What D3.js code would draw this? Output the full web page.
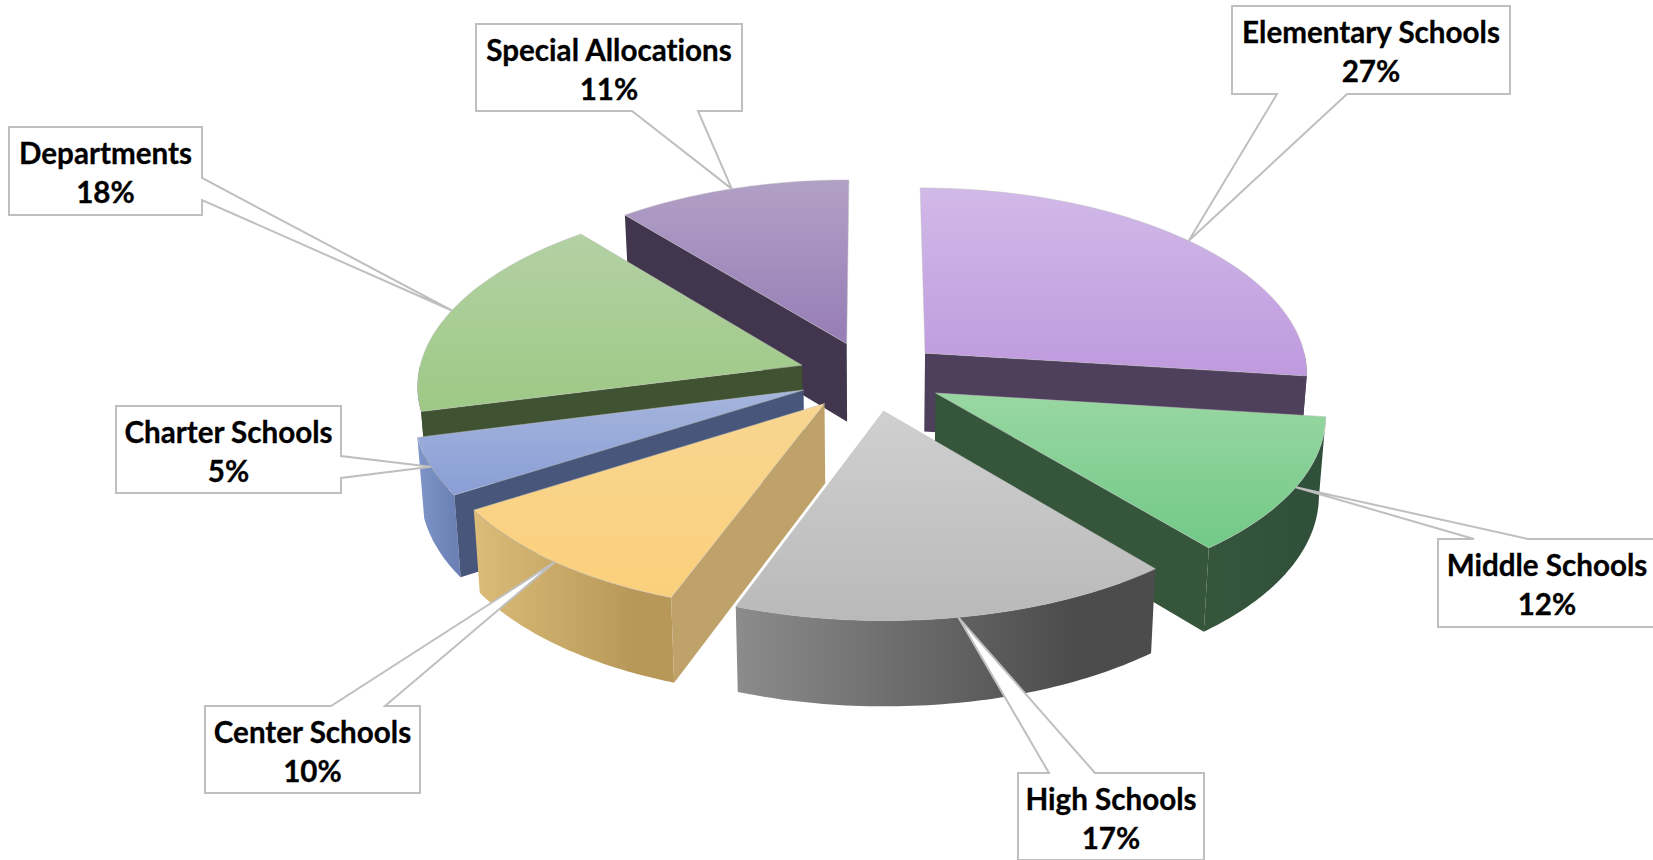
<!DOCTYPE html>
<html>
<head>
<meta charset="utf-8">
<script src="https://cdnjs.cloudflare.com/ajax/libs/d3/7.8.5/d3.min.js"></script>
<style>
html, body { margin: 0; padding: 0; background: #fff; overflow: hidden; }
text { font-family: Lato, "Open Sans", sans-serif; font-weight: 700; fill: #000; stroke: #000; stroke-width: 0.3; font-variant-ligatures: none; }
</style>
</head>
<body>
<div id="chart"></div>
<script>
// shares, the labels are rounded from these
var categories = ['Elementary Schools', 'Middle Schools', 'High Schools', 'Center Schools',
    'Charter Schools', 'Departments', 'Special Allocations'];
var values = [27.0, 12.0, 16.6, 10.4, 5.0, 18.0, 11.0];

// top gradient (back, front), radial wall, outer wall gradient (left, right)
var topColors = [['#d1b9e8', '#bf9ade'], ['#99d7a2', '#72c987'], ['#d0d0d0', '#b9b9b9'], ['#f8d690', '#fbd07c'],
    ['#a5b5dd', '#8a9ed6'], ['#b3d1a4', '#9ec985'], ['#b1a0c6', '#967db6']];
var wallColors = ['#4e3f5c', '#36563c', '#555555', '#bea26a', '#47567a', '#3f5231', '#41364d'];
var outerColors = [['#4e3f5c', '#4e3f5c'], ['#36563c', '#30503a'], ['#8c8c8c', '#4c4c4c'], ['#dcbc78', '#b89858'],
    ['#7f96ca', '#6c82b6'], ['#3f5231', '#3f5231'], ['#41364d', '#41364d']];

// back to front
var drawOrder = [6, 5, 0, 4, 1, 3, 2];

var width = 1653, height = 860;
var cx = 871, cy = 376;       // pie centre on screen
var rx = 384, ry = 184;       // flattened radius
var depth = 79;               // slice height
var perspX = 0.10, perspY = 0.09; // how much nearer parts grow
var explode = 0.19;           // pull of every slice from the centre

// callout boxes: x, y, w, h, side of the tail and where the tail leaves that side
var boxes = [
    {x: 1232, y: 6, w: 278, h: 88, side: 'bottom', base: [1277, 1347]},
    {x: 1438, y: 539, w: 226, h: 88, side: 'top', base: [1474, 1528]},
    {x: 1018, y: 773, w: 186, h: 87, side: 'top', base: [1049, 1095]},
    {x: 205, y: 706, w: 215, h: 87, side: 'top', base: [331, 385]},
    {x: 116, y: 406, w: 225, h: 87, side: 'right', base: [456, 478]},
    {x: 9, y: 127, w: 193, h: 88, side: 'right', base: [178, 200]},
    {x: 476, y: 24, w: 266, h: 87, side: 'bottom', base: [632, 698]}
];

var x = d3.scaleLinear().domain([-1, 1]).range([cx - rx, cx + rx]);
var y = d3.scaleLinear().domain([-1, 1]).range([cy - ry, cy + ry]);

var slices = d3.pie().sort(null).value(function (d) { return d; })(values);

function project(a, b, low) {
    var sx = 1 / (1 - perspX * b);
    var sy = 1 / (1 - perspY * b);
    var px = x(a * sx), py = y(b * sy);
    if (low) {
        px = cx + (px - cx) * 0.985; // sides lean in a little
        py += depth * Math.pow(sx, 0.65);
    }
    return [px, py];
}

function point(d, angle, r, low) {
    var mid = (d.startAngle + d.endAngle) / 2;
    var a = explode * Math.sin(mid) + r * Math.sin(angle);
    var b = -explode * Math.cos(mid) - r * Math.cos(angle);
    return project(a, b, low);
}

function arcAngles(from, to) {
    return d3.range(0, 61).map(function (i) { return from + (to - from) * i / 60; });
}

var line = d3.line();

var svg = d3.select('#chart').append('svg')
    .attr('width', width)
    .attr('height', height)
    .style('display', 'block');

var defs = svg.append('defs');
slices.forEach(function (d, i) {
    var g = defs.append('linearGradient').attr('id', 'top' + i)
        .attr('x1', 0).attr('y1', 0).attr('x2', 0).attr('y2', 1);
    g.append('stop').attr('offset', '0%').attr('stop-color', topColors[i][0]);
    g.append('stop').attr('offset', '100%').attr('stop-color', topColors[i][1]);
    var o = defs.append('linearGradient').attr('id', 'outer' + i)
        .attr('x1', 0).attr('y1', 0).attr('x2', 1).attr('y2', 0);
    o.append('stop').attr('offset', '0%').attr('stop-color', outerColors[i][0]);
    o.append('stop').attr('offset', '80%').attr('stop-color', outerColors[i][1]);
});

var pie = svg.append('g');

drawOrder.forEach(function (i) {
    var d = slices[i];
    var g = pie.append('g');

    // outer wall, only the part turned to the viewer
    var from = Math.max(d.startAngle, Math.PI / 2);
    var to = Math.min(d.endAngle, Math.PI * 1.5);
    if (from < to) {
        var upper = arcAngles(from, to).map(function (t) { return point(d, t, 1, false); });
        var lower = arcAngles(to, from).map(function (t) { return point(d, t, 1, true); });
        g.append('path')
            .attr('d', line(upper.concat(lower)) + 'Z')
            .attr('fill', 'url(#outer' + i + ')');
    }

    // the one cut side that can be seen
    [d.startAngle, d.endAngle].forEach(function (t, k) {
        var seen = k === 0 ? Math.sin(t) < -1e-6 : Math.sin(t) > 1e-6;
        if (!seen) return;
        var wall = [point(d, t, 0, false), point(d, t, 1, false), point(d, t, 1, true), point(d, t, 0, true)];
        g.append('path')
            .attr('d', line(wall) + 'Z')
            .attr('fill', wallColors[i]);
    });

    var face = [point(d, 0, 0, false)].concat(arcAngles(d.startAngle, d.endAngle).map(function (t) {
        return point(d, t, 1, false);
    }));
    g.append('path')
        .attr('d', line(face) + 'Z')
        .attr('fill', 'url(#top' + i + ')')
        .attr('stroke', '#bdbdbd')
        .attr('stroke-opacity', 0.6)
        .attr('stroke-width', 0.8);
});

function calloutPath(b, tip) {
    var r = b.x + b.w, u = b.y + b.h;
    var p = [[b.x, b.y]];
    if (b.side === 'top') p.push([b.base[0], b.y], tip, [b.base[1], b.y]);
    p.push([r, b.y]);
    if (b.side === 'right') p.push([r, b.base[0]], tip, [r, b.base[1]]);
    p.push([r, u]);
    if (b.side === 'bottom') p.push([b.base[1], u], tip, [b.base[0], u]);
    p.push([b.x, u]);
    return line(p) + 'Z';
}

var labels = svg.append('g');
slices.forEach(function (d, i) {
    var b = boxes[i];
    var mid = (d.startAngle + d.endAngle) / 2;
    labels.append('path')
        .attr('d', calloutPath(b, point(d, mid, 1, false)))
        .attr('fill', '#fff')
        .attr('stroke', '#bfbfbf')
        .attr('stroke-width', 2);
    // the Middle Schools box runs off the page, its text sits left of the box centre
    var tx = i === 1 ? 1547 : b.x + b.w / 2;
    var t = labels.append('text')
        .attr('x', tx)
        .attr('text-anchor', 'middle')
        .attr('font-size', 29.6);
    t.append('tspan').attr('x', tx).attr('y', b.y + 37).text(categories[i]);
    t.append('tspan').attr('x', tx).attr('y', b.y + 76).text(Math.round(values[i]) + '%');
});
</script>
</body>
</html>
